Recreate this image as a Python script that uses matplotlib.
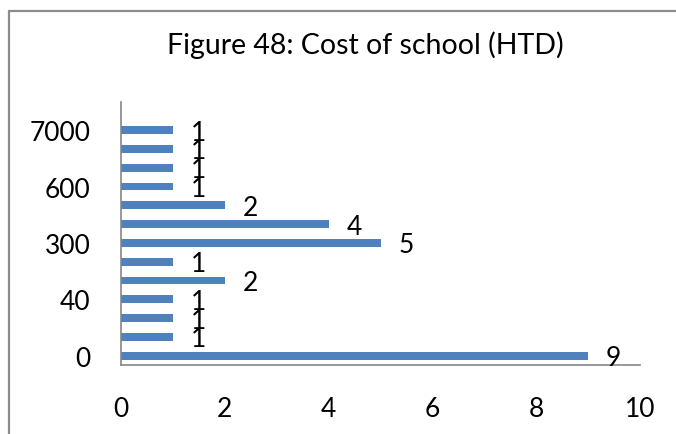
import matplotlib
matplotlib.use('Agg')
import matplotlib.pyplot as plt
from matplotlib.patches import Rectangle

# Cost of school (HTD) - number of responses per cost bracket
categories = ['0', '10', '25', '40', '50', '100', '300', '400', '500', '600', '1000', '5000', '7000']
counts = [9, 1, 1, 1, 2, 1, 5, 4, 2, 1, 1, 1, 1]
x_ticks = [0, 2, 4, 6, 8, 10]

plt.rcParams['font.family'] = ['Lato', 'DejaVu Sans']

bar_color = '#4F81BD'
axis_color = '#868686'

fig = plt.figure(figsize=(6.76, 4.35), dpi=100)
fig.patch.set_facecolor('white')

# outer chart border (right/bottom edges run off the picture)
fig.patches.append(Rectangle((8.5 / 676, -0.1), 1.2, 1 - 11.5 / 435 + 0.1,
                             transform=fig.transFigure, fill=False,
                             edgecolor='#8c8c8c', linewidth=1.6))

ax = fig.add_axes([121 / 676, 1 - 366 / 435, (640 - 121) / 676, (366 - 103) / 435])
ypos = list(range(len(categories)))
ax.barh(ypos, counts, height=0.42, color=bar_color)

# data labels to the right of each bar
for y, v in zip(ypos, counts):
    ax.annotate(str(v), (v, y), xytext=(18, -2), textcoords='offset pixels',
                ha='left', va='center', fontsize=19, color='black')

ax.set_xlim(0, 10)
ax.set_ylim(-0.5, len(categories) + 0.5)
ax.set_xticks(x_ticks)
ax.set_xticklabels([str(t) for t in x_ticks])
# only every third category label is shown
ax.set_yticks(ypos[::3])
ax.set_yticklabels(categories[::3])
ax.tick_params(axis='both', length=0, labelsize=19)
ax.tick_params(axis='x', pad=22)
ax.tick_params(axis='y', pad=22)

for side in ['top', 'right']:
    ax.spines[side].set_visible(False)
for side in ['left', 'bottom']:
    ax.spines[side].set_color(axis_color)
    ax.spines[side].set_linewidth(1.2)

fig.text(0.54, 1 - 45 / 435, 'Figure 48: Cost of school (HTD)', ha='center', va='center',
         fontsize=20.5, color='black')

fig.savefig('out.png', dpi=100)
